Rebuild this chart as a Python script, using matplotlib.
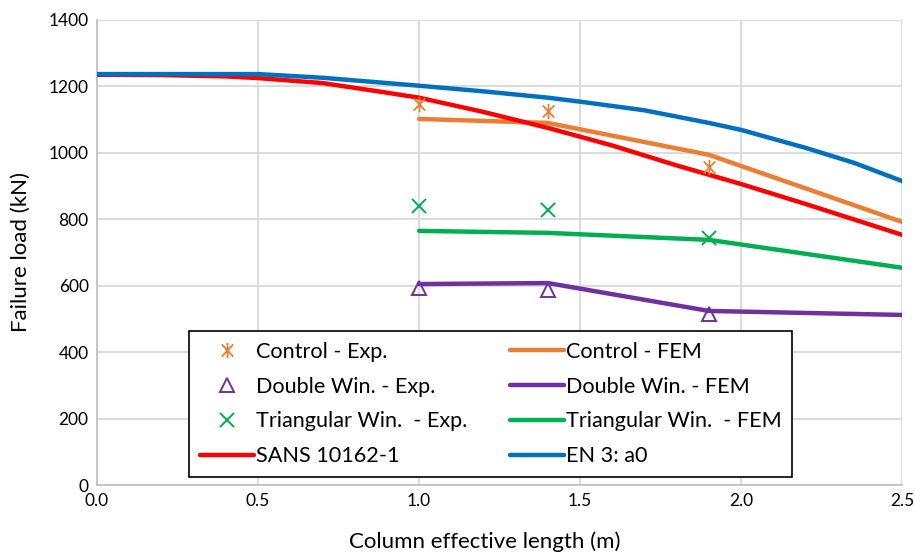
import matplotlib
matplotlib.use("Agg")
import matplotlib.pyplot as plt
from matplotlib.ticker import FuncFormatter
from matplotlib.path import Path

plt.rcParams['font.family'] = ['Lato', 'DejaVu Sans']

# Experimental points
x_exp = [1.0, 1.4, 1.9]
control_exp = [1147, 1126, 958]
double_exp = [593, 587, 515]
tri_exp = [840, 828, 744]

# FEM curves
x_fem = [1.0, 1.4, 1.9, 2.5]
control_fem = [1102, 1090, 994, 792]
double_fem = [605, 608, 524, 512]
tri_fem = [765, 759, 738, 654]

# Design curves
x_sans = [0.0, 0.2, 0.4, 0.5, 0.7, 0.88, 1.0, 1.2, 1.4, 1.6, 1.8, 1.9, 2.0, 2.2, 2.5]
sans = [1235, 1234, 1230, 1225, 1210, 1184, 1166, 1123, 1075, 1022, 962, 934, 906, 846, 753]
x_en = [0.0, 0.5, 0.7, 1.0, 1.2, 1.4, 1.5, 1.7, 1.9, 2.0, 2.2, 2.35, 2.5]
en3 = [1237, 1237, 1226, 1202, 1185, 1166, 1154, 1128, 1090, 1069, 1015, 970, 915]

c_orange = '#ED7D31'
c_purple = '#7030A0'
c_green = '#00B050'
c_red = '#FF0000'
c_blue = '#0070C0'

# Excel-style star marker: an X with a vertical bar
star = Path([(0, -1), (0, 1), (-0.75, -0.8), (0.75, 0.8), (-0.75, 0.8), (0.75, -0.8)],
            [Path.MOVETO, Path.LINETO, Path.MOVETO, Path.LINETO, Path.MOVETO, Path.LINETO])

fig = plt.figure(figsize=(9.15, 5.54), dpi=100)
ax = fig.add_axes([0.106, 0.1245, 0.880, 0.8395])

lw = 3.2
kw = dict(lw=lw, solid_capstyle='round', solid_joinstyle='round', zorder=3)
h_cfem, = ax.plot(x_fem, control_fem, color=c_orange, label='Control - FEM', **kw)
h_dfem, = ax.plot(x_fem, double_fem, color=c_purple, label='Double Win. - FEM', **kw)
h_tfem, = ax.plot(x_fem, tri_fem, color=c_green, label='Triangular Win.  - FEM', **kw)
h_sans, = ax.plot(x_sans, sans, color=c_red, label='SANS 10162-1', **kw)
h_en, = ax.plot(x_en, en3, color=c_blue, label='EN 3: a0', **kw)

h_cexp, = ax.plot(x_exp, control_exp, ls='none', marker=star, ms=11, mew=1.3,
                  color=c_orange, label='Control - Exp.', zorder=4)
h_dexp, = ax.plot(x_exp, double_exp, ls='none', marker='^', ms=10, mew=1.4,
                  mfc='none', mec=c_purple, label='Double Win. - Exp.', zorder=4)
h_texp, = ax.plot(x_exp, tri_exp, ls='none', marker='x', ms=10, mew=1.4,
                  color=c_green, label='Triangular Win.  - Exp.', zorder=4)

ax.set_xlim(0, 2.5)
ax.set_ylim(0, 1400)
ax.set_xticks([0, 0.5, 1.0, 1.5, 2.0, 2.5])
ax.set_yticks(range(0, 1401, 200))
ax.xaxis.set_major_formatter(FuncFormatter(lambda v, p: f"{v:.1f}"))
ax.grid(True, color='#D9D9D9', lw=1.3)
ax.set_axisbelow(True)
for s in ['top', 'right']:
    ax.spines[s].set_visible(False)
for s in ['left', 'bottom']:
    ax.spines[s].set_color('#BFBFBF')
    ax.spines[s].set_linewidth(1.2)
ax.tick_params(axis='both', length=0, labelsize=12.5, pad=6, colors='#000000')
ax.set_xlabel('Column effective length (m)', fontsize=16)
ax.set_ylabel('Failure load (kN)', fontsize=16)
ax.xaxis.set_label_coords(0.481, -0.100)
ax.yaxis.set_label_coords(-0.082, 0.5)

handles = [h_cexp, h_dexp, h_texp, h_sans, h_cfem, h_dfem, h_tfem, h_en]
leg = ax.legend(handles=handles, labels=[h.get_label() for h in handles],
                ncol=2, loc='upper left', bbox_to_anchor=(0.114, 0.331),
                fontsize=15.6, frameon=True, fancybox=False,
                edgecolor='black', framealpha=1, handlelength=2.5, handletextpad=0.1,
                borderaxespad=0, labelspacing=0.68, columnspacing=1.95, borderpad=0.5)
leg.get_frame().set_linewidth(1.2)
leg.set_zorder(5)

fig.savefig('out.png', dpi=100)
